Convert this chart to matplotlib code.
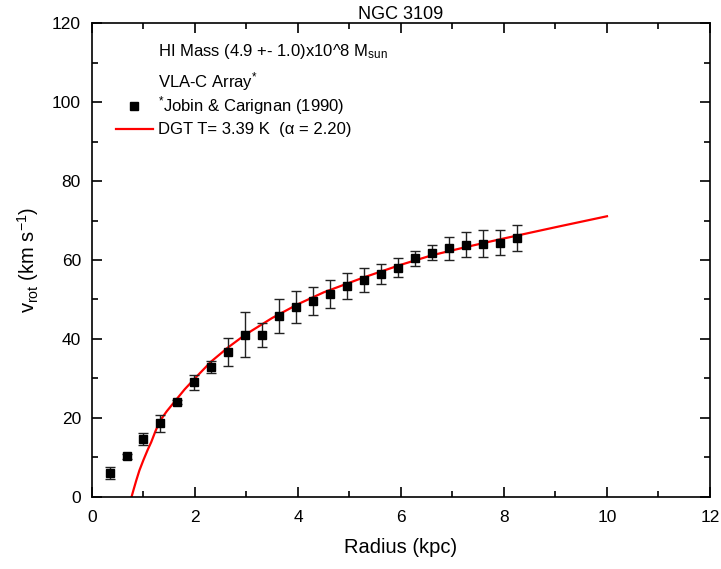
import matplotlib
matplotlib.use("Agg")
import matplotlib.pyplot as plt
from matplotlib.lines import Line2D
from matplotlib.ticker import MultipleLocator

# Observed rotation curve (Jobin & Carignan 1990)
radius = [0.35, 0.67, 0.99, 1.33, 1.65, 1.99, 2.31, 2.64, 2.97, 3.30,
          3.63, 3.96, 4.29, 4.62, 4.95, 5.28, 5.61, 5.94, 6.27, 6.60,
          6.93, 7.26, 7.59, 7.92, 8.25]
vrot = [5.9, 10.2, 14.6, 18.6, 24.0, 29.0, 32.9, 36.7, 41.0, 40.9,
        45.8, 48.1, 49.6, 51.4, 53.5, 54.9, 56.5, 58.0, 60.5, 61.9,
        63.0, 63.9, 64.1, 64.4, 65.6]
verr = [1.5, 0.6, 1.5, 2.2, 0.6, 1.9, 1.6, 3.5, 5.7, 3.0,
        4.4, 4.0, 3.5, 3.5, 3.3, 3.1, 2.6, 2.4, 1.9, 1.9,
        2.9, 3.2, 3.4, 3.2, 3.2]

# DGT model curve
model_r = [0.77, 0.80, 0.86, 0.92, 1.00, 1.08, 1.15, 1.23, 1.31, 1.45,
           1.60, 1.80, 2.00, 2.31, 2.64, 2.97, 3.50, 4.00, 4.50, 5.28,
           6.00, 6.60, 7.30, 7.94, 8.50, 9.10, 10.0]
model_v = [0.0, 1.4, 4.1, 6.6, 9.3, 11.8, 13.8, 16.5, 19.0, 21.6,
           24.0, 27.2, 30.0, 34.2, 37.8, 41.0, 45.3, 48.8, 51.8, 55.6,
           58.8, 61.2, 63.4, 65.3, 66.9, 68.6, 71.1]

plt.rcParams["font.family"] = "Liberation Sans"
plt.rcParams["mathtext.fontset"] = "custom"
plt.rcParams["mathtext.rm"] = "Liberation Sans"
plt.rcParams["mathtext.it"] = "Liberation Sans"
plt.rcParams["mathtext.default"] = "rm"

fig = plt.figure(figsize=(7.21, 5.69), dpi=100)
ax = fig.add_axes([0.1276, 0.1274, 0.8571, 0.8313])

ax.plot(model_r, model_v, color="red", lw=1.6, zorder=2)
ax.errorbar(radius, vrot, yerr=verr, fmt="s", color="black", ms=6,
            ecolor="#222222", elinewidth=1.0, capsize=3.5, capthick=1.0,
            zorder=3)

ax.set_xlim(0, 12)
ax.set_ylim(0, 120)
ax.xaxis.set_major_locator(MultipleLocator(2))
ax.xaxis.set_minor_locator(MultipleLocator(1))
ax.yaxis.set_major_locator(MultipleLocator(20))
ax.yaxis.set_minor_locator(MultipleLocator(10))
ax.tick_params(which="both", direction="in", top=True, right=True,
               labelsize=12.5, width=1.2)
ax.tick_params(axis="x", pad=10)
ax.tick_params(axis="y", pad=8)
ax.tick_params(which="major", length=7)
ax.tick_params(which="minor", length=4)
for s in ax.spines.values():
    s.set_linewidth(1.2)

ax.set_xlabel("Radius (kpc)", fontsize=14.5, labelpad=9)
ax.set_ylabel("v$_{rot}$ (km s$^{-1}$)", fontsize=14.5, labelpad=8)
ax.set_title("NGC 3109", fontsize=13, pad=3)

ax.text(0.107, 0.940, "HI Mass (4.9 +- 1.0)x10^8 M$_{sun}$",
        transform=ax.transAxes, fontsize=12, va="center")
ax.text(0.107, 0.877, "VLA-C Array$^{*}$",
        transform=ax.transAxes, fontsize=12, va="center")

handles = [
    Line2D([], [], ls="none", marker="s", color="black", ms=6),
    Line2D([], [], color="red", lw=1.6),
]
labels = ["$^{*}$Jobin & Carignan (1990)", "DGT T= 3.39 K  (α = 2.20)"]
ax.legend(handles, labels, loc="upper left", bbox_to_anchor=(0.028, 0.864),
          frameon=False, fontsize=12, handlelength=2.2, handletextpad=0.35,
          labelspacing=0.3, borderaxespad=0)

fig.savefig("out.png", dpi=100)
